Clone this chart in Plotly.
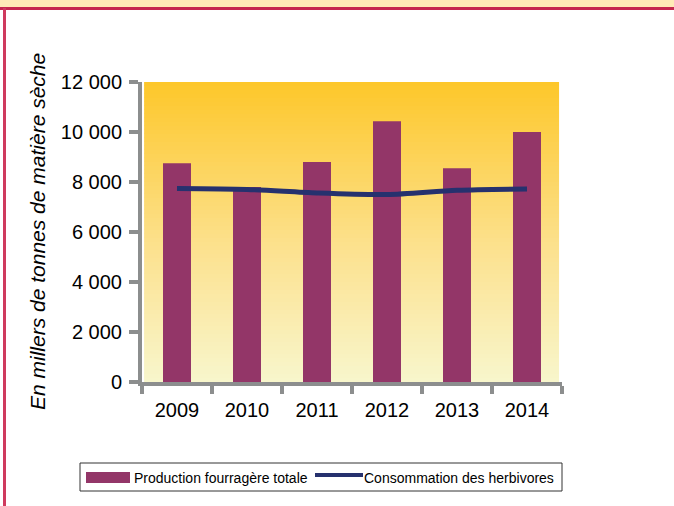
import plotly.graph_objects as go

# ---- data ----
years = ["2009", "2010", "2011", "2012", "2013", "2014"]
production = [8750, 7800, 8800, 10430, 8550, 10000]
consumption = [7740, 7700, 7560, 7500, 7670, 7720]
series_names = ["Production fourragère totale", "Consommation des herbivores"]
y_title = "En millers de tonnes de matière sèche"
y_ticks = [0, 2000, 4000, 6000, 8000, 10000, 12000]

# ---- geometry (pixels) ----
FW, FH = 674, 506
L, R, T, B = 142, 112, 82, 124
PW, PH = FW - L - R, FH - T - B


def px_x(px):
    return (px - L) / PW


def px_y(py):
    return (FH - B - py) / PH


FONT = "Liberation Sans, Arial, sans-serif"
BAR_COLOR = "#933668"
LINE_COLOR = "#26316E"
AXIS_COLOR = "#8C8E8E"

fig = go.Figure()
fig.add_trace(go.Bar(x=years, y=production, name=series_names[0],
                     marker=dict(color=BAR_COLOR, line=dict(width=0)),
                     width=0.4, showlegend=False))
fig.add_trace(go.Scatter(x=years, y=consumption, name=series_names[1],
                         mode="lines", line=dict(color=LINE_COLOR, width=5, shape="spline", smoothing=0.8),
                         showlegend=False))

shapes = []


def hexrgb(h):
    h = h.lstrip("#")
    return [int(h[i:i + 2], 16) for i in (0, 2, 4)]


stops = [(0.0, hexrgb("#F8F6CC")), (0.45, hexrgb("#FCE18E")), (1.0, hexrgb("#FDC72A"))]


def grad(t):
    for (a, ca), (b, cb) in zip(stops[:-1], stops[1:]):
        if a <= t <= b:
            f = (t - a) / (b - a)
            c = [round(ca[i] + (cb[i] - ca[i]) * f) for i in range(3)]
            return "rgb(%d,%d,%d)" % tuple(c)
    return "rgb(%d,%d,%d)" % tuple(stops[-1][1])


N = 75
for i in range(N):
    y0 = i / N
    y1 = (i + 1) / N + 0.002
    shapes.append(dict(type="rect", xref="x domain", yref="y domain", x0=0.005, x1=0.993,
                       y0=y0, y1=min(y1, 1.0), fillcolor=grad((i + 0.5) / N),
                       line=dict(width=0), layer="below"))

# page frame
shapes.append(dict(type="rect", xref="paper", yref="paper", x0=px_x(0), x1=px_x(FW),
                   y0=px_y(7), y1=px_y(0), fillcolor="#FFEBB7", line=dict(width=0), layer="below"))
shapes.append(dict(type="rect", xref="paper", yref="paper", x0=px_x(0), x1=px_x(FW),
                   y0=px_y(10), y1=px_y(7), fillcolor="#C5284F", line=dict(width=0), layer="below"))
shapes.append(dict(type="rect", xref="paper", yref="paper", x0=px_x(3), x1=px_x(6),
                   y0=px_y(FH), y1=px_y(8), fillcolor="#CF3A5E", line=dict(width=0), layer="below"))

# custom legend
shapes.append(dict(type="rect", xref="paper", yref="paper", x0=px_x(80), x1=px_x(562),
                   y0=px_y(491), y1=px_y(463), fillcolor="white", line=dict(color="#333333", width=1)))
shapes.append(dict(type="rect", xref="paper", yref="paper", x0=px_x(86), x1=px_x(130),
                   y0=px_y(483), y1=px_y(472), fillcolor=BAR_COLOR, line=dict(width=0)))
shapes.append(dict(type="line", xref="paper", yref="paper", x0=px_x(315), x1=px_x(363),
                   y0=px_y(475), y1=px_y(475), line=dict(color=LINE_COLOR, width=4)))

annotations = [
    dict(text=series_names[0], xref="paper", yref="paper", x=px_x(132), y=px_y(477.5),
         xanchor="left", yanchor="middle", showarrow=False, font=dict(family=FONT, size=14, color="black")),
    dict(text=series_names[1], xref="paper", yref="paper", x=px_x(362), y=px_y(477.5),
         xanchor="left", yanchor="middle", showarrow=False, font=dict(family=FONT, size=14, color="black")),
    dict(text="<i>" + y_title + "</i>", xref="paper", yref="paper", x=px_x(37), y=px_y(232),
         xanchor="center", yanchor="middle", textangle=-90, showarrow=False,
         font=dict(family=FONT, size=21, color="black")),
]

fig.update_layout(
    width=FW, height=FH,
    margin=dict(l=L, r=R, t=T, b=B, autoexpand=False),
    paper_bgcolor="white", plot_bgcolor="rgba(0,0,0,0)",
    separators=", ",
    shapes=shapes, annotations=annotations,
    font=dict(family=FONT, size=20, color="black"),
    showlegend=False,
    bargap=0.6,
)
fig.update_xaxes(type="category", range=[-0.5, 5.5], showgrid=False, showline=True,
                 linecolor=AXIS_COLOR, linewidth=4, ticks="outside", ticklen=8, tickwidth=4,
                 tickcolor=AXIS_COLOR, tickson="boundaries", tickfont=dict(size=20),
                 ticklabelstandoff=7, zeroline=False)
fig.update_yaxes(range=[0, 12000], tickvals=y_ticks, tickformat=",d", showgrid=False,
                 showline=True, linecolor=AXIS_COLOR, linewidth=4, ticks="outside",
                 ticklen=9, tickwidth=4, tickcolor=AXIS_COLOR, tickfont=dict(size=20),
                 ticklabelstandoff=3, zeroline=False)

fig.write_html("out.html")
